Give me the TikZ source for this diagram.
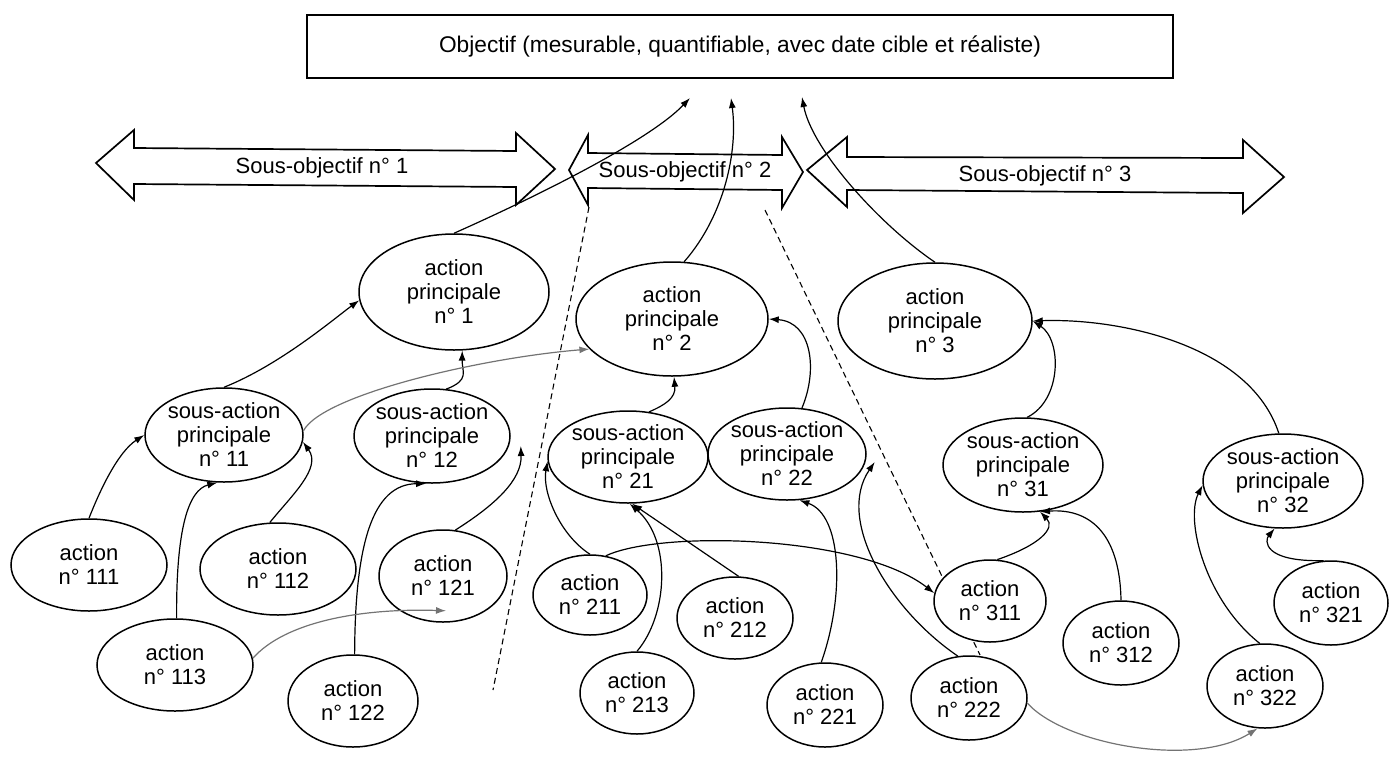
\documentclass[tikz,border=0pt]{standalone}
\usepackage{fontspec}
\setmainfont{Liberation Sans}
\usetikzlibrary{shapes.geometric,arrows.meta,calc}
\begin{document}
\begin{tikzpicture}[x=1pt,y=-1pt,
  ell/.style={ellipse,draw,line width=1.5pt,fill=white,inner sep=-14pt,align=center,font=\fontsize{22}{24}\selectfont},
  conn/.style={-{Latex[length=10pt,width=7pt]},line width=1.2pt},
  gconn/.style={conn,draw=black!55},
  blk/.style={line width=1.7pt,line join=miter,fill=white},
  lab/.style={font=\fontsize{22}{24}\selectfont},
  sep/.style={line width=1.1pt,dash pattern=on 6pt off 4pt}
]
\useasboundingbox (0,0) rectangle (1398,756);

% top objective box
\node[draw,line width=1.5pt,minimum width=866pt,minimum height=63pt,inner sep=0pt,font=\fontsize{22.7}{24}\selectfont] (top) at (740,46.5) {Objectif (mesurable, quantifiable, avec date cible et réaliste)};
\coordinate (t1) at (690,98);
\coordinate (t2) at (731,98);
\coordinate (t3) at (802,97);

% block double arrows
\draw[blk] (96,163) -- (134,130) -- (134,148) -- (516,151) -- (516,133) -- (555,169) -- (516,205) -- (516,187) -- (134,184) -- (134,200) -- cycle;
\draw[blk] (569,170) -- (588,135) -- (588,153) -- (782,155) -- (782,137) -- (803,172) -- (782,208) -- (782,190) -- (588,188) -- (588,205) -- cycle;
\draw[blk] (807,170) -- (847,137) -- (847,157) -- (1243,158) -- (1243,140) -- (1284,177) -- (1243,213) -- (1243,193) -- (847,190) -- (847,207) -- cycle;
\node[lab] (so1) at (322,168) {Sous-objectif n° 1};
\node[lab] (so2) at (685,172) {Sous-objectif n° 2};
\node[lab] (so3) at (1045,176) {Sous-objectif n° 3};

% dashed separators
\draw[sep] (589,207) -- (493,690);
\draw[sep] (765,210) -- (980,655);

% main actions
\node[ell,minimum width=190pt,minimum height=116pt] (ap1) at (454,292) {action\\principale\\n° 1};
\node[ell,minimum width=192pt,minimum height=114pt] (ap2) at (672,319) {action\\principale\\n° 2};
\node[ell,minimum width=194pt,minimum height=116pt] (ap3) at (935,321) {action\\principale\\n° 3};

% sub-actions
\node[ell,minimum width=158pt,minimum height=94pt] (sa11) at (224,435) {sous-action\\principale\\n° 11};
\node[ell,minimum width=156pt,minimum height=94pt] (sa12) at (432,436) {sous-action\\principale\\n° 12};
\node[ell,minimum width=160pt,minimum height=92pt] (sa21) at (628,457) {sous-action\\principale\\n° 21};
\node[ell,minimum width=158pt,minimum height=92pt] (sa22) at (787,454) {sous-action\\principale\\n° 22};
\node[ell,minimum width=160pt,minimum height=94pt] (sa31) at (1023,465) {sous-action\\principale\\n° 31};
\node[ell,minimum width=160pt,minimum height=94pt] (sa32) at (1283,481) {sous-action\\principale\\n° 32};

% actions
\node[ell,minimum width=156pt,minimum height=92pt] (a111) at (89,565) {action\\n° 111};
\node[ell,minimum width=156pt,minimum height=92pt] (a112) at (278,569) {action\\n° 112};
\node[ell,minimum width=156pt,minimum height=92pt] (a113) at (175,665) {action\\n° 113};
\node[ell,minimum width=128pt,minimum height=92pt] (a121) at (443,576) {action\\n° 121};
\node[ell,minimum width=130pt,minimum height=92pt] (a122) at (353,701) {action\\n° 122};
\node[ell,minimum width=114pt,minimum height=80pt] (a211) at (590,595) {action\\n° 211};
\node[ell,minimum width=116pt,minimum height=82pt] (a212) at (735,618) {action\\n° 212};
\node[ell,minimum width=114pt,minimum height=82pt] (a213) at (637,693) {action\\n° 213};
\node[ell,minimum width=116pt,minimum height=84pt] (a221) at (825,705) {action\\n° 221};
\node[ell,minimum width=116pt,minimum height=84pt] (a222) at (969,698) {action\\n° 222};
\node[ell,minimum width=112pt,minimum height=82pt] (a311) at (990,601) {action\\n° 311};
\node[ell,minimum width=116pt,minimum height=84pt] (a312) at (1121,643) {action\\n° 312};
\node[ell,minimum width=114pt,minimum height=84pt] (a321) at (1331,603) {action\\n° 321};
\node[ell,minimum width=116pt,minimum height=84pt] (a322) at (1265,686) {action\\n° 322};

% connectors to the objective
\draw[conn] (ap1.north) .. controls (540,195) and (650,140) .. (t1);
\draw[conn] (ap2.78) .. controls (725,215) and (738,150) .. (t2);
\draw[conn] (ap3.north) .. controls (880,225) and (812,150) .. (t3);

% sub-actions to main actions
\draw[conn] (sa11.north) .. controls (280,365) and (335,318) .. (ap1.185);
\draw[conn] (sa12.73) .. controls (470,380) and (462,372) .. (ap1.-82);
\draw[gconn] (sa11.3) .. controls (322,395) and (480,358) .. (ap2.200);
\draw[conn] (sa21.65) .. controls (665,405) and (676,398) .. (ap2.-88);
\draw[conn] (sa22.72) .. controls (818,370) and (812,322) .. (ap2.east);
\draw[conn] (sa31.85) .. controls (1062,400) and (1062,340) .. (ap3.east);
\draw[conn] (sa32.95) .. controls (1250,345) and (1120,318) .. (ap3.east);

% actions to sub-actions
\draw[conn] (a111.north) .. controls (100,490) and (118,452) .. (sa11.west);
\draw[conn] (a112.100) .. controls (292,495) and (322,468) .. (sa11.-5);
\draw[conn] (a113.88) .. controls (176,530) and (188,490) .. (sa11.-98);
\draw[conn] (a122.88) .. controls (355,545) and (372,484) .. (sa12.-97);
\draw[conn] (a121.75) .. controls (495,505) and (522,480) .. ($(sa12.east)+(10,10)$);
\draw[gconn] (a113.5) .. controls (285,622) and (360,608) .. ($(a121.south)+(3,-12)$);
\draw[conn] (a211.north) .. controls (560,535) and (542,492) .. (sa21.183);
\draw[conn] (a211.68) .. controls (660,530) and (860,535) .. (a311.172);
\draw[conn] (a213.north) .. controls (668,615) and (672,540) .. (sa21.-88);
\draw[conn] (a212.85) -- (sa21.-85);
\draw[conn] (a221.95) .. controls (845,595) and (842,515) .. (sa22.-75);
\draw[conn] (a222.105) .. controls (890,610) and (835,520) .. ($(sa22.east)+(8,8)$);
\draw[conn] (a311.80) .. controls (1040,545) and (1056,528) .. (sa31.-70);
\draw[conn] (a312.north) .. controls (1120,540) and (1095,508) .. (sa31.-70);
\draw[conn] (a321.100) .. controls (1262,562) and (1265,540) .. (sa32.-100);
\draw[conn] (a322.97) .. controls (1205,600) and (1185,520) .. (sa32.183);
\draw[gconn] (a222.-5) .. controls (1065,745) and (1195,768) .. (a322.-100);
\end{tikzpicture}
\end{document}
